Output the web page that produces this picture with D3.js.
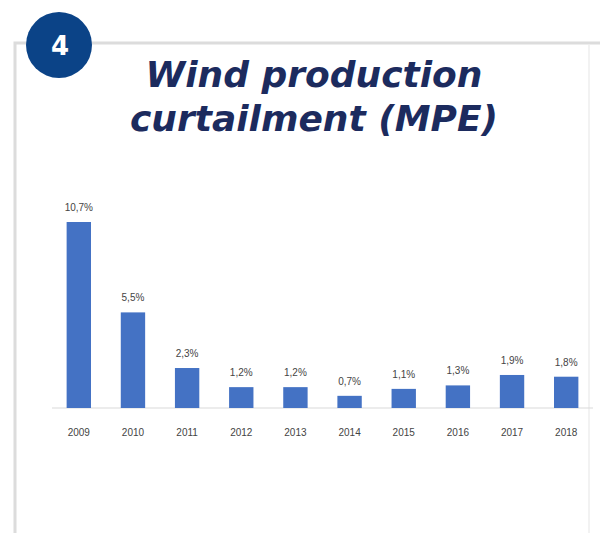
<!DOCTYPE html>
<html>
<head>
<meta charset="utf-8">
<script src="https://cdn.jsdelivr.net/npm/d3@7"></script>
<style>
  body { margin: 0; background: #fff; }
  svg { display: block; }
</style>
</head>
<body>
<div id="chart"></div>
<script>
const years = ["2009", "2010", "2011", "2012", "2013", "2014", "2015", "2016", "2017", "2018"]
const curtailment = [10.7, 5.5, 2.3, 1.2, 1.2, 0.7, 1.1, 1.3, 1.9, 1.8]
const titleLines = ["Wind production", "curtailment (MPE)"]
const badge = "4"

const width = 603
const height = 533
const margin = {top: 222, right: 10, bottom: 125, left: 52}

const svg = d3.select("#chart").append("svg")
  .attr("width", width)
  .attr("height", height)

// panel frame
svg.append("path")
  .attr("d", "M15,533 L15,43 L600,43")
  .attr("fill", "none")
  .attr("stroke", "#dcdcdc")
  .attr("stroke-width", 3)
svg.append("line")
  .attr("x1", 589).attr("x2", 589).attr("y1", 45).attr("y2", 533)
  .attr("stroke", "#f2f2f2").attr("stroke-width", 2)

// numbered badge
svg.append("circle")
  .attr("cx", 59).attr("cy", 45).attr("r", 33)
  .attr("fill", "#0b4387")
svg.append("text")
  .attr("x", 60).attr("y", 55)
  .attr("text-anchor", "middle")
  .attr("font-family", "DejaVu Sans, sans-serif")
  .attr("font-weight", "bold")
  .attr("font-size", 26)
  .attr("fill", "#fff")
  .text(badge)

svg.append("g").selectAll("text")
  .data(titleLines)
  .join("text")
  .attr("x", 314)
  .attr("y", (d, i) => 87 + i * 44)
  .attr("text-anchor", "middle")
  .attr("font-family", "DejaVu Sans, sans-serif")
  .attr("font-weight", "bold")
  .attr("font-style", "italic")
  .attr("font-size", 36)
  .attr("fill", "#1c2b5e")
  .text(d => d)

const x = d3.scaleBand()
  .domain(years)
  .range([margin.left, 593])
  .paddingInner(0.55)
  .paddingOuter(0.27)

const y = d3.scaleLinear()
  .domain([0, d3.max(curtailment)])
  .range([408, margin.top])

const data = years.map((year, i) => ({year, value: curtailment[i]}))

svg.append("line")
  .attr("x1", margin.left).attr("x2", 593)
  .attr("y1", y(0)).attr("y2", y(0))
  .attr("stroke", "#d9d9d9")
  .attr("stroke-width", 1)

svg.append("g").selectAll("rect")
  .data(data)
  .join("rect")
  .attr("x", d => x(d.year))
  .attr("y", d => y(d.value))
  .attr("width", x.bandwidth())
  .attr("height", d => y(0) - y(d.value))
  .attr("fill", "#4472c4")

const fmt = v => d3.format(".1f")(v).replace(".", ",") + "%"

svg.append("g").selectAll("text")
  .data(data)
  .join("text")
  .attr("x", d => x(d.year) + x.bandwidth() / 2)
  .attr("y", d => y(d.value) - 11)
  .attr("text-anchor", "middle")
  .attr("font-family", "Liberation Sans, Arial, sans-serif")
  .attr("font-size", 10)
  .attr("fill", "#444")
  .text(d => fmt(d.value))

const xAxis = g => g
  .attr("transform", `translate(0, ${y(0)})`)
  .call(d3.axisBottom(x).tickSize(0).tickPadding(21))
  .call(g => g.select(".domain").remove())
  .call(g => g.selectAll("text")
    .attr("font-family", "Liberation Sans, Arial, sans-serif")
    .attr("font-size", 10)
    .attr("fill", "#444"))

svg.append("g").call(xAxis)
</script>
</body>
</html>
